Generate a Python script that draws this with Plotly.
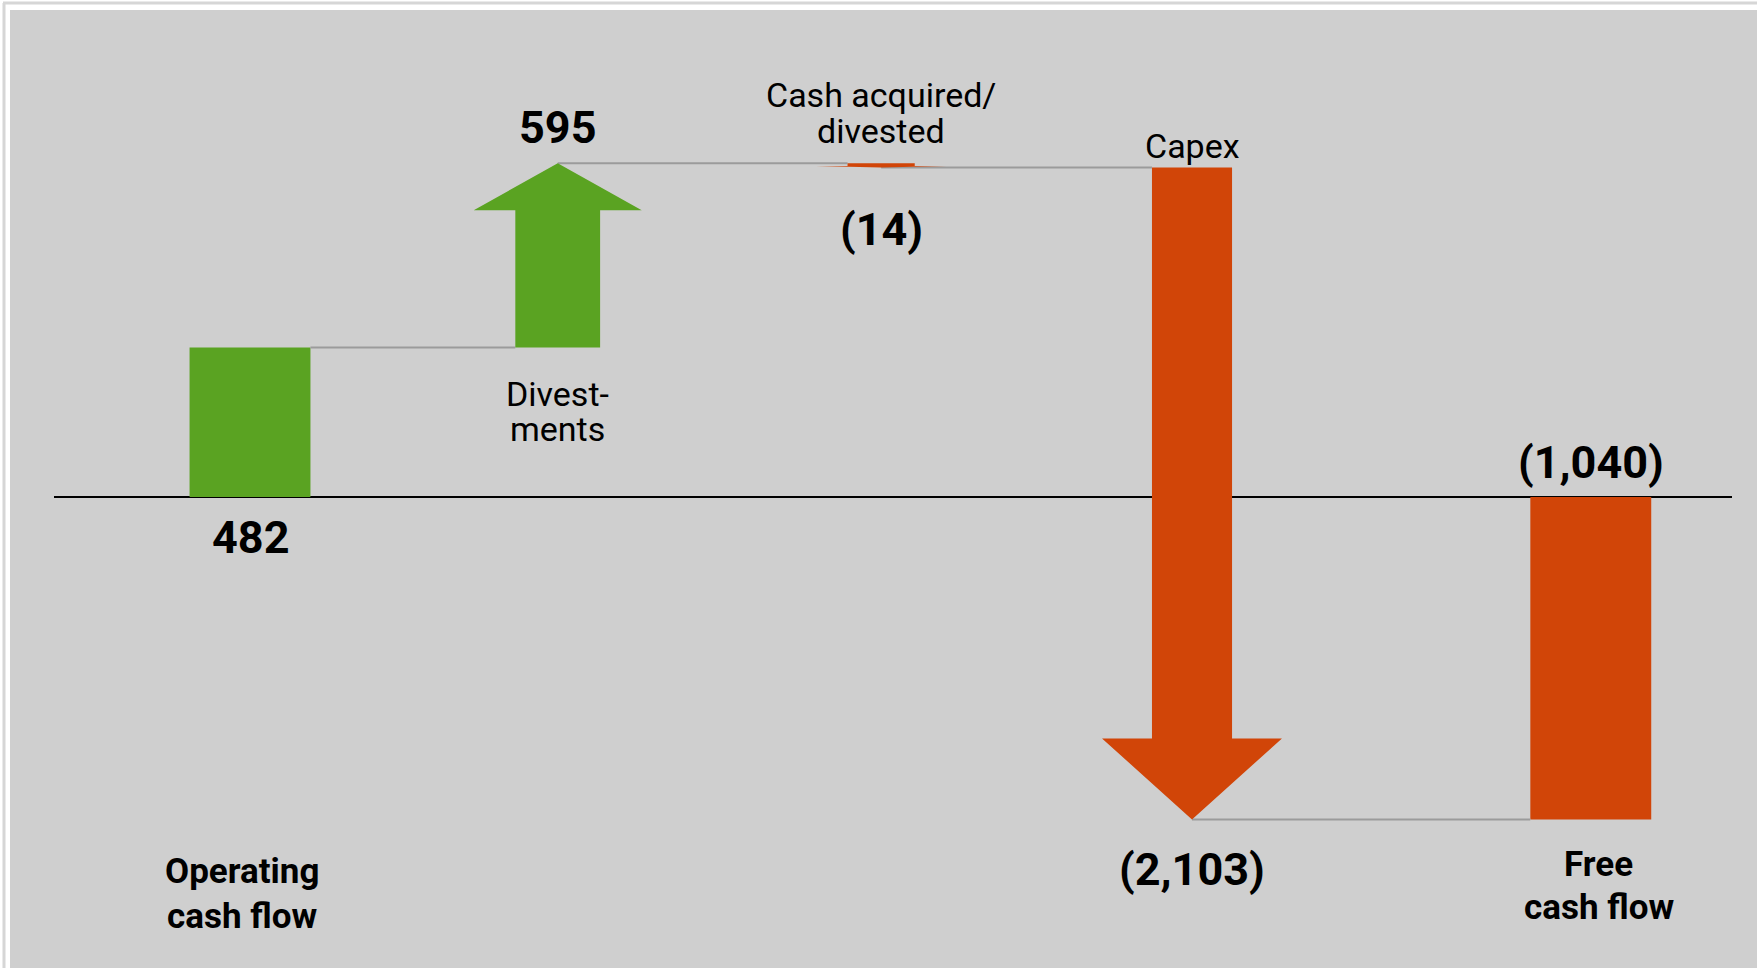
import plotly.graph_objects as go

# ---- data ----
labels = ["Operating<br>cash flow", "Divest-<br>ments", "Cash acquired/<br>divested",
          "Capex", "Free<br>cash flow"]
values = [482, 595, -14, -2103, -1040]
kinds = ["total", "delta", "delta", "delta", "total"]
value_text = ["482", "595", "(14)", "(2,103)", "(1,040)"]

# ---- style / layout ----
W, H = 1757, 968
PL, PT = 10, 10                      # panel offset in px
GREEN, ORANGE = "#5aa322", "#d14508"
BG = "#cfcfcf"
LINK = "#9b9b9b"
FONT = "Roboto"

slot = [0, 0.98, 2.01, 3.0, 4.27]    # horizontal slot of each item
bar_w = 0.385
shaft_w = [None, 0.27, 0.214, 0.255, None]
head_w = [None, 0.535, 0.414, 0.573, None]
head_h = [None, 152, 5, 261, None]
value_shift = [-40, 36, -62, -50, 35]   # px offset of value label from its anchor
label_bold = [True, False, False, False, True]
label_pos = [(-8, [871, 916]), (0, [394, 429]), (0, [95, 131]), (0, [146]), (8, [864, 907])]

x_range = [-(250 - PL) / 314, (W - 250) / 314]
px_per_unit = 0.31
base_px = 497
y_range = [-(H - base_px) / px_per_unit, (base_px - PT) / px_per_unit]


def py(px):
    return (H - px) / (H - PT)


def colour(v):
    return GREEN if v >= 0 else ORANGE


fig = go.Figure()

# running levels
starts, ends = [], []
level = 0
for v, k in zip(values, kinds):
    if k == "total":
        starts.append(0)
        ends.append(v)
        level = v
    else:
        starts.append(level)
        level += v
        ends.append(level)

# connectors
for i in range(len(values) - 1):
    if kinds[i] == "total":
        x0 = slot[i] + bar_w / 2
    else:
        x0 = slot[i]
    if kinds[i + 1] == "total":
        x1 = slot[i + 1] - bar_w / 2
    else:
        x1 = slot[i + 1] - shaft_w[i + 1] / 2
    fig.add_trace(go.Scatter(x=[x0, x1], y=[ends[i], ends[i]], mode="lines",
                             line=dict(color=LINK, width=2), hoverinfo="skip"))

# total bars
tot = [i for i, k in enumerate(kinds) if k == "total"]
fig.add_trace(go.Bar(x=[slot[i] for i in tot], y=[values[i] for i in tot], width=bar_w,
                     marker=dict(color=[colour(values[i]) for i in tot], line=dict(width=0)),
                     hoverinfo="skip"))

# delta arrows
for i, k in enumerate(kinds):
    if k != "delta":
        continue
    s, e, c = starts[i], ends[i], slot[i]
    sgn = 1 if e > s else -1
    hh = min(head_h[i], abs(e - s) * 0.4)
    neck = e - sgn * hh
    ws, wh = shaft_w[i] / 2, head_w[i] / 2
    xs = [c - ws, c - ws, c - wh, c, c + wh, c + ws, c + ws, c - ws]
    ys = [s, neck, neck, e, neck, neck, s, s]
    fig.add_trace(go.Scatter(x=xs, y=ys, mode="lines", fill="toself",
                             fillcolor=colour(values[i]), line=dict(width=0),
                             hoverinfo="skip"))

# value labels
for i, t in enumerate(value_text):
    anchor = 0 if kinds[i] == "total" else ends[i]
    fig.add_annotation(x=slot[i], y=anchor, xref="x", yref="y", text=t, showarrow=False,
                       yshift=value_shift[i], yanchor="middle",
                       font=dict(family=FONT, size=45, color="#000", weight=700))

# category labels, one annotation per line
for i, lab in enumerate(labels):
    dx, rows = label_pos[i]
    for line, ypx in zip(lab.split("<br>"), rows):
        fig.add_annotation(x=slot[i], y=py(ypx), xref="x", yref="paper", text=line,
                           showarrow=False, xshift=dx, yanchor="middle",
                           font=dict(family=FONT, size=35 if label_bold[i] else 34, color="#000",
                                     weight=700 if label_bold[i] else 400))

# baseline and outer frame
fig.add_shape(type="line", xref="paper", yref="y", x0=(54 - PL) / (W - PL),
              x1=(1732 - PL) / (W - PL), y0=0, y1=0, layer="below",
              line=dict(color="#000", width=2))
fig.add_shape(type="line", xref="paper", yref="paper", x0=(3 - PL) / (W - PL), x1=1,
              y0=py(3), y1=py(3), line=dict(color="#d6d6d6", width=3))
fig.add_shape(type="line", xref="paper", yref="paper", x0=(4 - PL) / (W - PL),
              x1=(4 - PL) / (W - PL), y0=py(3), y1=0, line=dict(color="#d6d6d6", width=3))

fig.update_xaxes(range=x_range, visible=False, fixedrange=True)
fig.update_yaxes(range=y_range, visible=False, fixedrange=True)
fig.update_layout(
    width=W, height=H,
    margin=dict(l=PL, r=0, t=PT, b=0, pad=0),
    paper_bgcolor="white", plot_bgcolor=BG,
    showlegend=False,
)

fig.write_html("out.html", config={"displayModeBar": False},
               post_script="document.body.style.margin='0';")
